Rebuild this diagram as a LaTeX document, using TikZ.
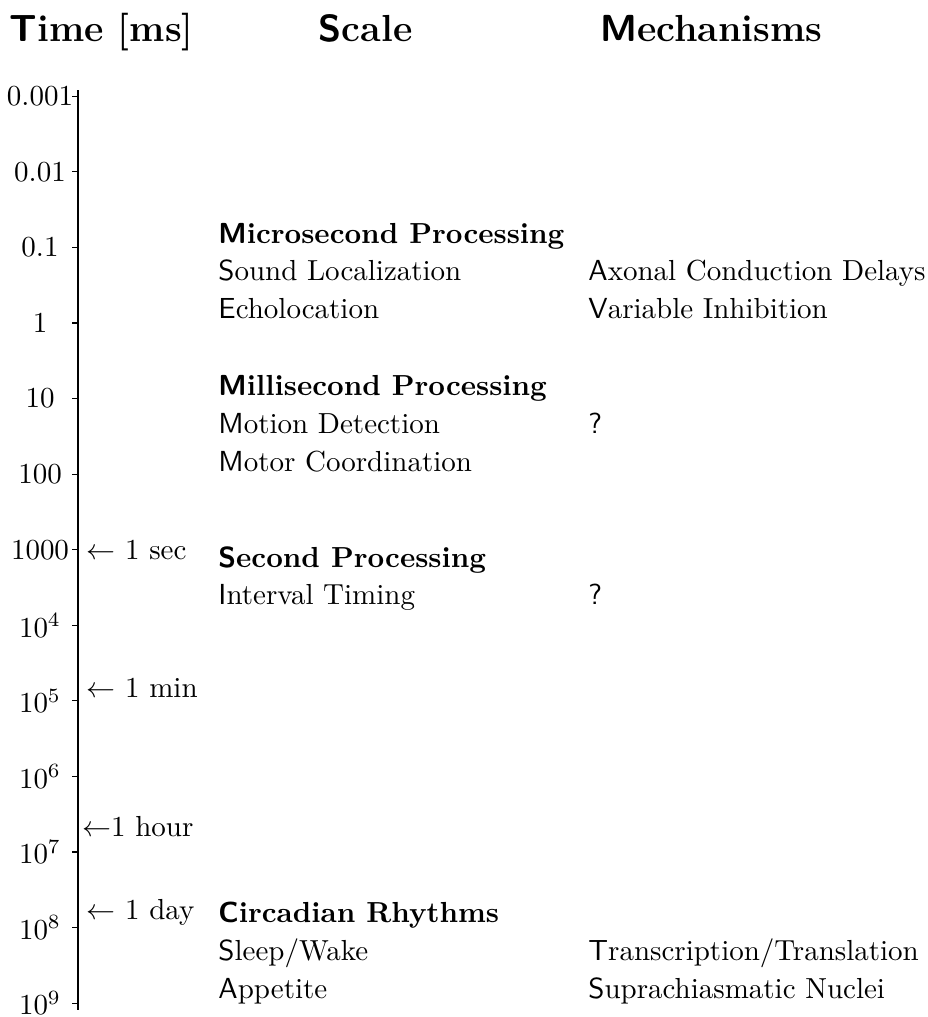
\documentclass[tikz,border=0pt]{standalone}
\usepackage{tikz}
\usetikzlibrary{positioning}
\newcommand{\sfinit}[1]{{\sffamily #1}}

\begin{document}
\begin{tikzpicture}[x=1cm, y=1cm,
  hdr/.style={font=\fontsize{13}{16}\selectfont\bfseries, anchor=base west, inner sep=0pt},
  cat/.style={font=\bfseries, anchor=base west, inner sep=0pt},
  item/.style={anchor=base west, inner sep=0pt},
  note/.style={anchor=base west, inner sep=0pt},
  ticklab/.style={inner sep=0pt}]

  \useasboundingbox (0,0) rectangle (11.24,12.33);

  %% Column headers
  \node[hdr] (hdrtime) at (0.110,11.830) {\sfinit{T}ime [ms]};
  \node[hdr] (hdrscale) at (3.860,11.830) {\sfinit{S}cale};
  \node[hdr] (hdrmech) at (7.270,11.830) {\sfinit{M}echanisms};

  %% Time axis
  \coordinate (axtop) at (0.945,11.235);
  \coordinate (axbot) at (0.945,0.085);
  \draw[line width=0.4pt] (axtop) -- (axbot);
  \foreach \k/\lab in {0/0.001, 1/0.01, 2/0.1, 3/1, 4/10, 5/100, 6/1000,
                       7/10^4, 8/10^5, 9/10^6, 10/10^7, 11/10^8, 12/10^9}{
    \coordinate (tick\k) at (0.945,{11.163-0.9163*\k});
    \draw[line width=0.4pt] (tick\k) -- ++(-0.073,0);
    \node[ticklab] (lab\k) at (0.485,{11.163-0.9163*\k}) {$\lab$};
  }

  %% Marks on the axis
  \node[note] (sec)  at (1.042,5.551) {$\leftarrow$ 1 sec};
  \node[note] (min)  at (1.042,3.878) {$\leftarrow$ 1 min};
  \node[note] (hour) at (0.990,2.194) {$\leftarrow$1 hour};
  \node[note] (day)  at (1.042,1.176) {$\leftarrow$ 1 day};

  %% Microsecond
  \node[cat]  (micro)  at (2.642,9.381) {\sfinit{M}icrosecond Processing};
  \node[item] (sound)  at (2.642,8.932) {\sfinit{S}ound Localization};
  \node[item] (echo)   at (2.642,8.472) {\sfinit{E}cholocation};
  \node[item] (axonal) at (7.127,8.932) {\sfinit{A}xonal Conduction Delays};
  \node[item] (inhib)  at (7.127,8.472) {\sfinit{V}ariable Inhibition};

  %% Millisecond
  \node[cat]  (milli)  at (2.642,7.539) {\sfinit{M}illisecond Processing};
  \node[item] (motion) at (2.642,7.078) {\sfinit{M}otion Detection};
  \node[item] (motor)  at (2.642,6.618) {\sfinit{M}otor Coordination};
  \node[item] (qmilli) at (7.127,7.078) {\sfinit{?}};

  %% Second
  \node[cat]  (second)   at (2.642,5.454) {\sfinit{S}econd Processing};
  \node[item] (interval) at (2.642,5.006) {\sfinit{I}nterval Timing};
  \node[item] (qsecond)  at (7.127,5.006) {\sfinit{?}};

  %% Circadian
  \node[cat]  (circ)   at (2.642,1.151) {\sfinit{C}ircadian Rhythms};
  \node[item] (sleep)  at (2.642,0.691) {\sfinit{S}leep/Wake};
  \node[item] (appet)  at (2.642,0.230) {\sfinit{A}ppetite};
  \node[item] (transc) at (7.127,0.691) {\sfinit{T}ranscription/Translation};
  \node[item] (scn)    at (7.127,0.230) {\sfinit{S}uprachiasmatic Nuclei};

\end{tikzpicture}
\end{document}
